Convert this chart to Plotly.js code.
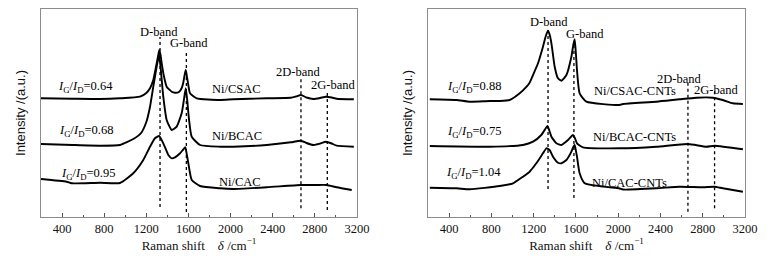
<!DOCTYPE html>
<html>
<head>
<meta charset="utf-8">
<script src="https://cdn.plot.ly/plotly-3.0.1.min.js"></script>
<style>html,body{margin:0;padding:0;background:#fff}#chart{width:780px;height:261px}</style>
</head>
<body>
<div id="chart"></div>
<script>
// ---- Left panel: Raman spectra (shift in cm^-1, intensity in a.u., offset stacked) ----
const csacX = [200, 500, 760, 950, 1140, 1200, 1235, 1266, 1292, 1310, 1323, 1335, 1346, 1368, 1393, 1441, 1472, 1510, 1536, 1550, 1562, 1574, 1586, 1600, 1615, 1678, 1899, 2026, 2343, 2572, 2620, 2668, 2720, 2785, 2850, 2905, 2960, 3007, 3170];
const csacY = [118.7, 118.3, 118, 118.7, 120.3, 124, 128.7, 137, 150.3, 160, 167, 162, 153.7, 140.3, 130.3, 125.3, 124.3, 125, 129, 134, 141, 147, 140, 131, 123.7, 118.7, 117, 117.7, 118.7, 119.3, 120.5, 122, 119.5, 118, 119, 120.3, 119.5, 118.3, 117.7];

const bcacX = [200, 500, 760, 950, 1076, 1150, 1200, 1235, 1266, 1298, 1312, 1321, 1335, 1361, 1393, 1441, 1488, 1536, 1555, 1574, 1590, 1599, 1631, 1710, 1899, 2026, 2343, 2572, 2668, 2720, 2785, 2850, 2905, 2960, 3007, 3170];
const bcacY = [73, 72, 71.3, 72, 78, 84, 95, 110.3, 130.3, 150.3, 158, 162, 150, 120.3, 97, 87, 90.3, 104, 116, 128.7, 115, 104, 80.3, 72, 70.3, 70.3, 72, 74.7, 76.3, 74, 72, 73.5, 75.3, 73.5, 71.3, 70.3];

const cacX = [200, 444, 491, 760, 950, 1076, 1171, 1235, 1282, 1321, 1361, 1409, 1441, 1472, 1520, 1550, 1570, 1585, 1599, 1631, 1710, 1899, 2026, 2343, 2668, 2811, 2912, 3007, 3150];
const cacY = [38, 35.3, 33.7, 34.3, 34, 43.7, 57, 70.3, 78.7, 81, 73.7, 62, 58.7, 59.7, 63.7, 67.5, 69.7, 62, 53.7, 37, 31, 28.7, 28, 29.7, 32, 32, 32, 29.7, 27];

// ---- Right panel: CNT-grown samples ----
const csacCntX = [217, 469, 595, 784, 879, 973, 1068, 1133, 1160, 1194, 1241, 1288, 1315, 1336, 1352, 1368, 1399, 1430, 1462, 1510, 1557, 1575, 1588, 1600, 1610, 1635, 1699, 2013, 2045, 2361, 2581, 2739, 2896, 2990, 3085, 3180];
const csacCntY = [117.7, 117, 115.3, 116, 116, 117, 123.7, 130.3, 134, 142, 153.7, 170.3, 181, 186.3, 182, 173.7, 150.3, 138.7, 136.3, 142, 160.3, 172, 177.7, 163, 147, 123.7, 115.3, 112, 113, 115.3, 117.7, 119.3, 119.3, 117, 113.7, 113];

const bcacCntX = [217, 784, 1099, 1194, 1272, 1310, 1330, 1350, 1368, 1415, 1462, 1525, 1572, 1590, 1610, 1667, 2013, 2361, 2660, 2833, 2912, 3180];
const bcacCntY = [71, 70.3, 72, 75.3, 82, 88, 91, 86, 80.3, 73.7, 72, 77, 82, 79, 73.7, 69.7, 68.7, 70.3, 73, 70.3, 71.3, 67.7];

const cacCntX = [217, 469, 595, 879, 1005, 1099, 1162, 1225, 1288, 1320, 1351, 1383, 1430, 1462, 1510, 1557, 1575, 1588, 1600, 1610, 1635, 1683, 2013, 2045, 2361, 2581, 2802, 2912, 2990, 3180];
const cacCntY = [29.3, 28.7, 27.7, 31, 33.7, 40.3, 45.3, 53.7, 63.7, 68.7, 67, 60.3, 54.3, 53.7, 57, 65.3, 70, 72, 66, 60.3, 43.7, 33.7, 28.5, 27.5, 28.7, 30.3, 29.7, 30.3, 28.7, 25.3];

// ---- Band marker lines (position, top, bottom) ----
const bandNames = ["D-band", "G-band", "2D-band", "2G-band"];
const leftBandPos = [1330, 1580, 2668, 2918];
const leftBandTop = [180, 167, 139, 127];
const leftBandBottom = [10, 5, 8.7, 7];
const rightBandPos = [1336, 1581, 2660, 2912];
const rightBandTop = [189, 174, 134.3, 126.3];
const rightBandBottom = [28, 19, 5.3, 8.7];

// ---- Labels ----
const leftSamples = ["Ni/CSAC", "Ni/BCAC", "Ni/CAC"];
const leftRatios = ["0.64", "0.68", "0.95"];
const rightSamples = ["Ni/CSAC-CNTs", "Ni/BCAC-CNTs", "Ni/CAC-CNTs"];
const rightRatios = ["0.88", "0.75", "1.04"];

const tickVals = [400, 800, 1200, 1600, 2000, 2400, 2800, 3200];
const tickText = ["400", "800", "1200", "1600", "2000", "2400", "2800", "3200"];

const SERIF = "Liberation Serif, Times New Roman, serif";
const SANS = "Liberation Sans, Arial, sans-serif";

const traces = [];
function spectrum(x, y, xa, ya, name) {
  traces.push({x: x, y: y, xaxis: xa, yaxis: ya, name: name, type: "scatter", mode: "lines",
    line: {color: "#000", width: 1.9, shape: "spline", smoothing: 0.5}, hoverinfo: "x+y+name"});
}
spectrum(csacX, csacY, "x", "y", leftSamples[0]);
spectrum(bcacX, bcacY, "x", "y", leftSamples[1]);
spectrum(cacX, cacY, "x", "y", leftSamples[2]);
spectrum(csacCntX, csacCntY, "x2", "y2", rightSamples[0]);
spectrum(bcacCntX, bcacCntY, "x2", "y2", rightSamples[1]);
spectrum(cacCntX, cacCntY, "x2", "y2", rightSamples[2]);

function bandLines(pos, top, bot, xa, ya) {
  for (let i = 0; i < pos.length; i++) {
    traces.push({x: [pos[i], pos[i]], y: [bot[i], top[i]], xaxis: xa, yaxis: ya, type: "scatter", mode: "lines",
      name: bandNames[i], line: {color: "#000", width: 1.3, dash: "dot"}, hoverinfo: "skip"});
  }
}
bandLines(leftBandPos, leftBandTop, leftBandBottom, "x", "y");
bandLines(rightBandPos, rightBandTop, rightBandBottom, "x2", "y2");

const txtFont = {family: SERIF, size: 12.5, color: "#000"};
function ann(text, x, y, xref, yref) {
  return {text: text, x: x, y: y, xref: xref, yref: yref, showarrow: false, font: txtFont,
    xanchor: "center", yanchor: "middle"};
}
function ratioText(v) { return "<i>I</i><sub>G</sub>/<i>I</i><sub>D</sub>=" + v; }

const annotations = [
  // left panel
  ann(bandNames[0], 1323, 185.3, "x", "y"),
  ann(bandNames[1], 1602, 173.7, "x", "y"),
  ann(bandNames[2], 2640, 145.3, "x", "y"),
  ann(bandNames[3], 2972, 132, "x", "y"),
  ann(leftSamples[0], 2058, 128, "x", "y"),
  ann(leftSamples[1], 2058, 81.3, "x", "y"),
  ann(leftSamples[2], 2089, 35.3, "x", "y"),
  ann(ratioText(leftRatios[0]), 627, 130, "x", "y"),
  ann(ratioText(leftRatios[1]), 627, 86.5, "x", "y"),
  ann(ratioText(leftRatios[2]), 649, 43.5, "x", "y"),
  // right panel
  ann(bandNames[0], 1345, 195.3, "x2", "y2"),
  ann(bandNames[1], 1683, 182.7, "x2", "y2"),
  ann(bandNames[2], 2574, 138, "x2", "y2"),
  ann(bandNames[3], 2921, 127, "x2", "y2"),
  ann(rightSamples[0], 2156, 126.3, "x2", "y2"),
  ann(rightSamples[1], 2156, 80.3, "x2", "y2"),
  ann(rightSamples[2], 2108, 33.7, "x2", "y2"),
  ann(ratioText(rightRatios[0]), 635, 130, "x2", "y2"),
  ann(ratioText(rightRatios[1]), 635, 85.5, "x2", "y2"),
  ann(ratioText(rightRatios[2]), 634, 44.5, "x2", "y2")
];

const frame = "#8c8c8c";
const xTitle = "Raman shift\u00A0\u00A0\u00A0\u00A0<i>δ</i> /cm<sup>−1</sup>";
function xAxis(domain, anchor) {
  return {domain: domain, anchor: anchor, range: [200, 3200], tickmode: "array", tickvals: tickVals, ticktext: tickText,
    ticks: "inside", ticklen: 4, tickwidth: 1, tickcolor: "#555",
    minor: {dtick: 200, tick0: 200, ticks: "inside", ticklen: 2.5, tickcolor: "#555"},
    showline: true, linecolor: frame, linewidth: 1, mirror: true, showgrid: false, zeroline: false,
    tickfont: {family: SERIF, size: 12.5, color: "#111"}, ticklabelstandoff: 0,
    title: {text: xTitle, font: {family: SERIF, size: 13, color: "#111"}, standoff: 5}, automargin: false};
}
function yAxis(domain, anchor) {
  return {domain: domain, anchor: anchor, range: [0, 208], showticklabels: false, ticks: "", showgrid: false, zeroline: false,
    showline: true, linecolor: frame, linewidth: 1, mirror: true,
    title: {text: "Intensity /(a.u.)", font: {family: SANS, size: 13, color: "#111"}, standoff: 11}, automargin: false};
}

const yDom = [1 - 217 / 261, 1 - 9 / 261];
const layout = {
  width: 780, height: 261, margin: {l: 0, r: 0, t: 0, b: 0},
  paper_bgcolor: "#fff", plot_bgcolor: "#fff", showlegend: false,
  xaxis: xAxis([41 / 780, 357 / 780], "y"),
  yaxis: yAxis(yDom, "x"),
  xaxis2: xAxis([428 / 780, 745 / 780], "y2"),
  yaxis2: yAxis(yDom, "x2"),
  annotations: annotations
};

Plotly.newPlot("chart", traces, layout, {displayModeBar: false});
</script>
</body>
</html>
